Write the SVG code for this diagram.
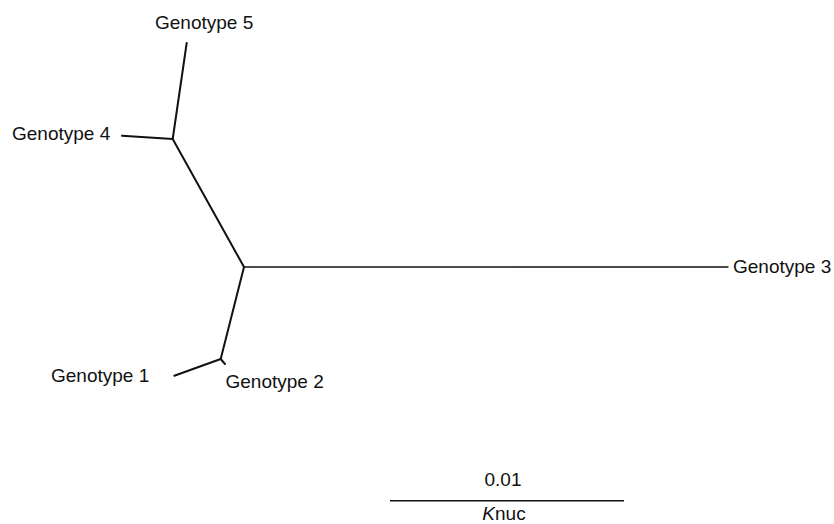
<svg xmlns="http://www.w3.org/2000/svg" width="834" height="524" viewBox="0 0 834 524">
<style>
.lbl{font-family:"Liberation Sans",Arial,sans-serif;font-size:19px;fill:#111}
.br{stroke:#111;stroke-width:2;fill:none;stroke-linecap:round}
</style>
<rect width="834" height="524" fill="#fff"/>
<g id="connectors">
<line class="br" x1="186.7" y1="43" x2="172.7" y2="139"/>
<line class="br" x1="122" y1="135.7" x2="172.7" y2="139"/>
<line class="br" x1="172.7" y1="139" x2="244" y2="267"/>
<line class="br" x1="244" y1="267" x2="728" y2="267" style="stroke-width:1.4"/>
<line class="br" x1="244" y1="267" x2="220.7" y2="359"/>
<line class="br" x1="220.7" y1="359" x2="174.3" y2="375.7"/>
<line class="br" x1="220.7" y1="359" x2="225" y2="364"/>
</g>
<g id="genotype5"><text class="lbl" x="155" y="29">Genotype 5</text></g>
<g id="genotype4"><text class="lbl" x="12" y="140">Genotype 4</text></g>
<g id="genotype3"><text class="lbl" x="733" y="273">Genotype 3</text></g>
<g id="genotype1"><text class="lbl" x="51" y="382">Genotype 1</text></g>
<g id="genotype2"><text class="lbl" x="225.5" y="388">Genotype 2</text></g>
<g id="scale">
<text class="lbl" x="503" y="486" text-anchor="middle">0.01</text>
<line x1="390" y1="500.7" x2="624" y2="500.7" stroke="#111" stroke-width="1.6"/>
<text class="lbl" x="504" y="520" text-anchor="middle"><tspan font-style="italic">K</tspan>nuc</text>
</g>
</svg>
